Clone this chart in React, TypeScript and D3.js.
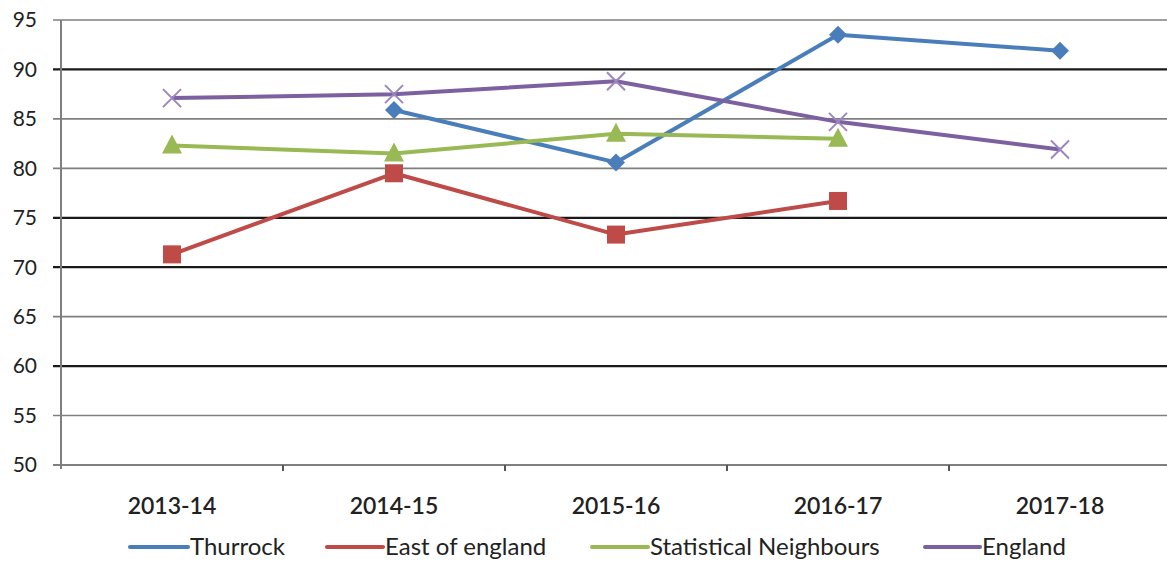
import React, { useEffect, useRef } from 'react'
import * as d3 from 'd3'

const years = ['2013-14', '2014-15', '2015-16', '2016-17', '2017-18']
const thurrock: (number | null)[] = [null, 85.9, 80.6, 93.5, 91.9]
const eastOfEngland: (number | null)[] = [71.3, 79.5, 73.3, 76.7, null]
const statNeighbours: (number | null)[] = [82.3, 81.5, 83.5, 83.0, null]
const england: (number | null)[] = [87.1, 87.5, 88.8, 84.7, 81.9]
const yTicks = [50, 55, 60, 65, 70, 75, 80, 85, 90, 95]
const darkGridTicks = [60, 70, 75, 90]

const series = [
  { name: 'Thurrock', values: thurrock, color: '#4a7ebb', marker: 'diamond' },
  { name: 'East of england', values: eastOfEngland, color: '#be4b48', marker: 'square' },
  { name: 'Statistical Neighbours', values: statNeighbours, color: '#98b954', marker: 'triangle' },
  { name: 'England', values: england, color: '#7d60a0', marker: 'cross' }
]

const FONT = 'Lato, "Noto Sans", sans-serif'

export default function App() {
  const ref = useRef<SVGSVGElement | null>(null)

  useEffect(() => {
    if (!ref.current) return
    const width = 1167
    const height = 562
    const svg = d3.select(ref.current)
    svg.selectAll('*').remove()

    const left = 61
    const band = 222
    const x = d3.scaleBand().domain(years).range([left, left + band * years.length]).paddingInner(0).paddingOuter(0)
    const y = d3.scaleLinear().domain([50, 95]).range([465, 20])
    const cx = (d: string) => (x(d) ?? 0) + x.bandwidth() / 2

    // gridlines
    svg
      .append('g')
      .selectAll('line')
      .data(yTicks.filter((t) => t !== 50))
      .enter()
      .append('line')
      .attr('x1', left - 8)
      .attr('x2', width)
      .attr('y1', (d) => y(d))
      .attr('y2', (d) => y(d))
      .attr('stroke', (d) => (darkGridTicks.includes(d) ? '#1a1a1a' : '#7f7f7f'))
      .attr('stroke-width', (d) => (darkGridTicks.includes(d) ? 2.2 : 1.6))

    // y axis
    svg
      .append('line')
      .attr('x1', left)
      .attr('x2', left)
      .attr('y1', y(95))
      .attr('y2', y(50) + 4)
      .attr('stroke', '#7f7f7f')
      .attr('stroke-width', 2)

    // x axis
    svg
      .append('line')
      .attr('x1', left - 8)
      .attr('x2', width)
      .attr('y1', y(50))
      .attr('y2', y(50))
      .attr('stroke', '#7f7f7f')
      .attr('stroke-width', 2)

    svg
      .append('g')
      .selectAll('line')
      .data(years.slice(1))
      .enter()
      .append('line')
      .attr('x1', (d) => x(d) ?? 0)
      .attr('x2', (d) => x(d) ?? 0)
      .attr('y1', y(50))
      .attr('y2', y(50) + 6)
      .attr('stroke', '#555')
      .attr('stroke-width', 2)

    // y labels
    svg
      .append('g')
      .selectAll('text')
      .data(yTicks)
      .enter()
      .append('text')
      .attr('x', 37)
      .attr('y', (d) => y(d))
      .attr('dy', '0.35em')
      .attr('text-anchor', 'end')
      .attr('font-family', FONT)
      .attr('font-size', 21)
      .attr('fill', '#222')
      .text((d) => d)

    // x labels
    svg
      .append('g')
      .selectAll('text')
      .data(years)
      .enter()
      .append('text')
      .attr('x', (d) => cx(d))
      .attr('y', 506)
      .attr('dy', '0.35em')
      .attr('text-anchor', 'middle')
      .attr('font-family', FONT)
      .attr('font-size', 23)
      .attr('font-weight', 600)
      .attr('fill', '#222')
      .text((d) => d)

    // lines
    const line = d3
      .line<number | null>()
      .defined((d) => d !== null)
      .x((_, i) => cx(years[i]))
      .y((d) => y(d as number))

    series.forEach((s) => {
      svg
        .append('path')
        .attr('d', line(s.values))
        .attr('fill', 'none')
        .attr('stroke', s.color)
        .attr('stroke-width', 4)
        .attr('stroke-linejoin', 'round')
    })

    // markers
    series.forEach((s) => {
      const g = svg.append('g')
      s.values.forEach((v, i) => {
        if (v === null) return
        const px = cx(years[i])
        const py = y(v)
        if (s.marker === 'diamond') {
          g.append('path')
            .attr('d', `M${px},${py - 9}L${px + 9},${py}L${px},${py + 9}L${px - 9},${py}Z`)
            .attr('fill', s.color)
        } else if (s.marker === 'square') {
          g.append('rect')
            .attr('x', px - 9)
            .attr('y', py - 9)
            .attr('width', 18)
            .attr('height', 18)
            .attr('fill', s.color)
        } else if (s.marker === 'triangle') {
          g.append('path')
            .attr('d', `M${px},${py - 11}L${px + 10},${py + 8}L${px - 10},${py + 8}Z`)
            .attr('fill', s.color)
        } else {
          g.append('path')
            .attr('d', `M${px - 9},${py - 9}L${px + 9},${py + 9}M${px + 9},${py - 9}L${px - 9},${py + 9}`)
            .attr('stroke', '#9d86c0')
            .attr('stroke-width', 2)
        }
      })
    })

    // legend
    const legendItems = [
      { x: 130, w: 58 },
      { x: 327, w: 56 },
      { x: 592, w: 56 },
      { x: 925, w: 55 }
    ]
    series.forEach((s, i) => {
      const li = legendItems[i]
      svg
        .append('line')
        .attr('x1', li.x)
        .attr('x2', li.x + li.w)
        .attr('y1', 547)
        .attr('y2', 547)
        .attr('stroke', s.color)
        .attr('stroke-width', 4)
        .attr('stroke-linecap', 'round')
      svg
        .append('text')
        .attr('x', li.x + li.w + 2)
        .attr('y', 547)
        .attr('dy', '0.35em')
        .attr('font-family', FONT)
        .attr('font-size', 24)
        .attr('fill', '#222')
        .text(s.name)
    })

    svg.attr('width', width).attr('height', height)
  }, [])

  return (
    <svg
      ref={ref}
      width={1167}
      height={562}
      style={{ position: 'absolute', left: 0, top: 0, background: '#fff' }}
    />
  )
}
